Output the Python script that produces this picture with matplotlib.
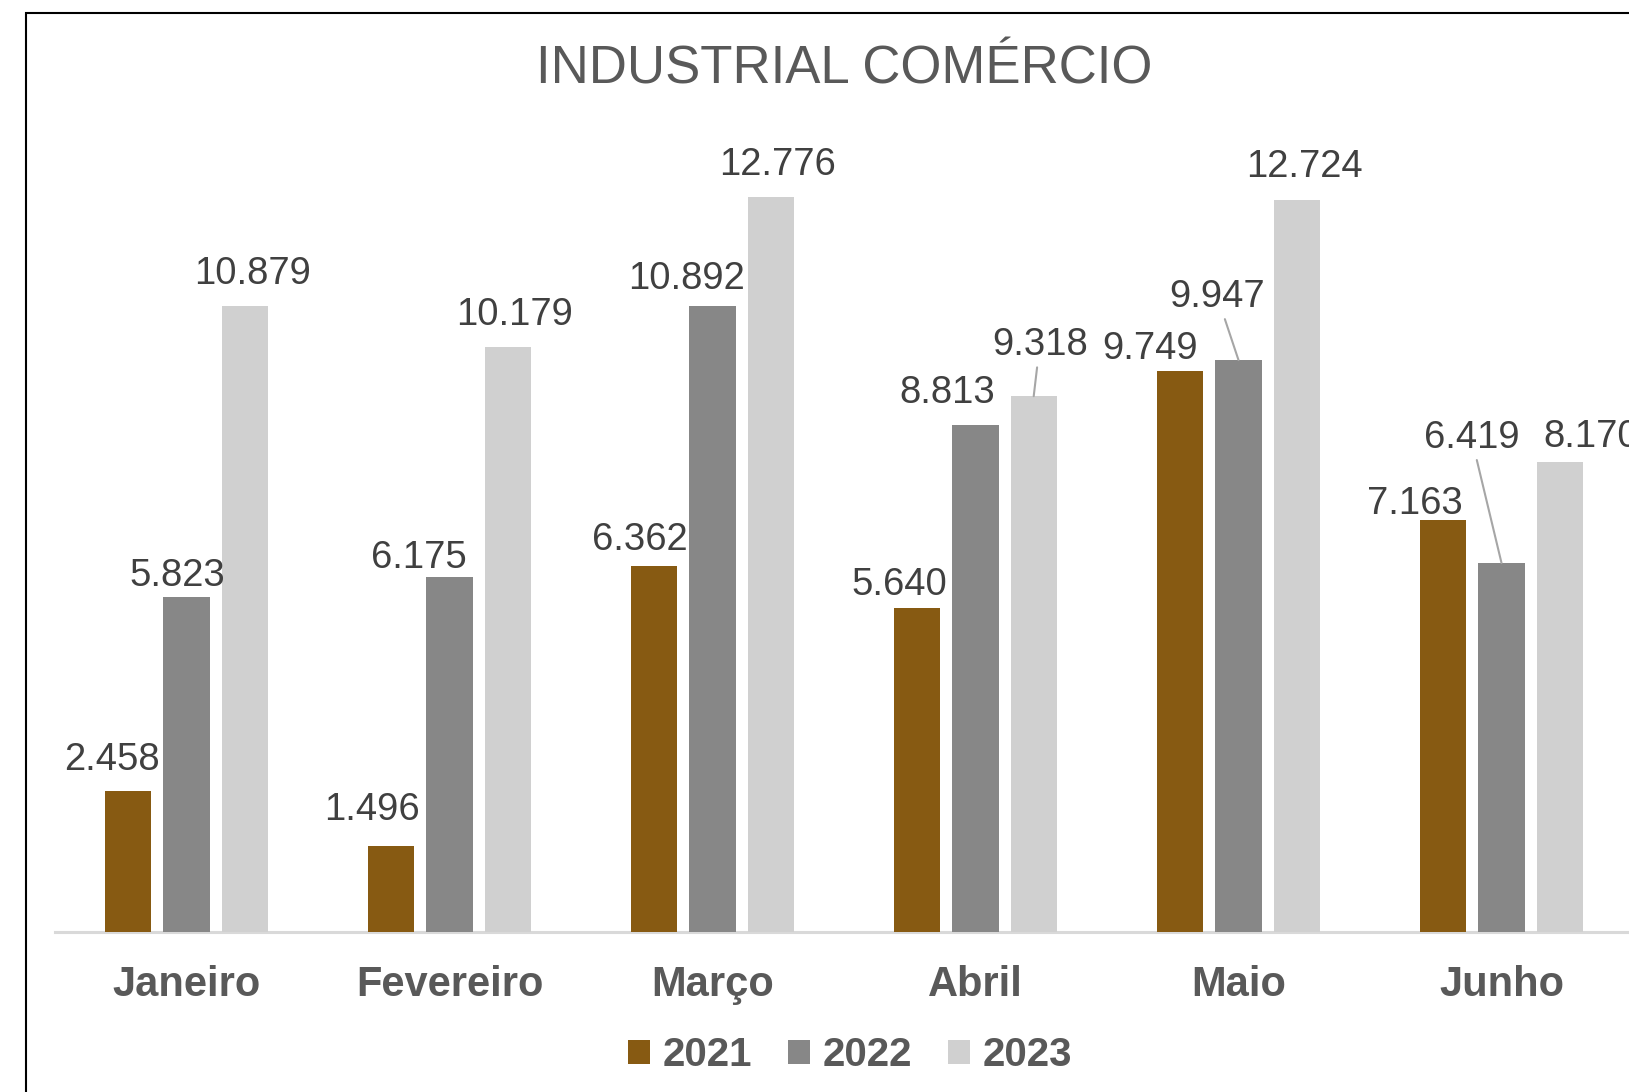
import matplotlib
matplotlib.use("Agg")
import matplotlib.pyplot as plt
import numpy as np
from matplotlib.patches import Rectangle, Patch

plt.rcParams['font.family'] = ['Liberation Sans', 'DejaVu Sans']

categories = ["Janeiro", "Fevereiro", "Março", "Abril", "Maio", "Junho"]
series_names = ["2021", "2022", "2023"]
v2021 = [2458, 1496, 6362, 5640, 9749, 7163]
v2022 = [5823, 6175, 10892, 8813, 9947, 6419]
v2023 = [10879, 10179, 12776, 9318, 12724, 8170]
series_values = [v2021, v2022, v2023]
colors = ["#875A12", "#878787", "#D0D0D0"]

# label offsets (pixels) relative to bar-top centre, per series / category
label_dx = [[-16, -19, -14, -18, -30, -28],
            [-9, -31, -26, -28, -21, -30],
            [8, 7, 7, 6, 8, 31]]
label_dy = [[31, 36, 26, 23, 22, 16],
            [21, 19, 27, 32, 63, 125],
            [32, 32, 32, 51, 33, 25]]

W, H = 1629, 1092
fig = plt.figure(figsize=(W / 100, H / 100), dpi=100)
ax = fig.add_axes([55 / W, 160 / H, 1578 / W, 805 / H])

x = np.arange(len(categories))
step = 0.2213
width = 0.175
for i, (name, vals, c) in enumerate(zip(series_names, series_values, colors)):
    xs = x + (i - 1) * step
    ax.bar(xs, vals, width=width, color=c, label=name, zorder=2)
    for j, (xx, v) in enumerate(zip(xs, vals)):
        dy = label_dy[i][j]
        lbl = f"{v:,}".replace(",", ".")
        kw = {}
        if dy > 45:
            kw['arrowprops'] = dict(arrowstyle='-', color='#A6A6A6', lw=1.5,
                                    shrinkA=1, shrinkB=0)
        ax.annotate(lbl, xy=(xx, v), xytext=(label_dx[i][j], dy),
                    textcoords='offset pixels', ha='center', va='center',
                    fontsize=27.5, color='#404040', **kw)

ax.set_xlim(-0.5, 5.5)
ax.set_ylim(0, 14000)
ax.set_yticks([])
ax.set_xticks(x)
ax.set_xticklabels(categories, fontsize=30, fontweight='bold', color='#595959')
ax.tick_params(axis='x', length=0, pad=24)
for s in ['top', 'right', 'left']:
    ax.spines[s].set_visible(False)
ax.spines['bottom'].set_color('#D9D9D9')
ax.spines['bottom'].set_linewidth(2.2)
ax.spines['bottom'].set_zorder(1)

fig.text(844 / W, 1 - 69 / H, "INDUSTRIAL COMÉRCIO", ha='center', va='center',
         fontsize=38, color='#595959')

handles = [Patch(facecolor=c, edgecolor='none') for c in colors]
leg = fig.legend(handles, series_names, loc='center', bbox_to_anchor=(850 / W, 1 - 1055 / H),
                 ncol=3, frameon=False, fontsize=29, handlelength=0.55, handleheight=0.55,
                 handletextpad=0.3, columnspacing=0.9, borderpad=0)
for t in leg.get_texts():
    t.set_fontweight('bold')
    t.set_color('#595959')

fig.patches.append(Rectangle((26 / W, -0.5), 2.0, 1.5 - 12.5 / H, transform=fig.transFigure,
                             fill=False, edgecolor='black', linewidth=1.5))

fig.savefig("out.png", dpi=100)
